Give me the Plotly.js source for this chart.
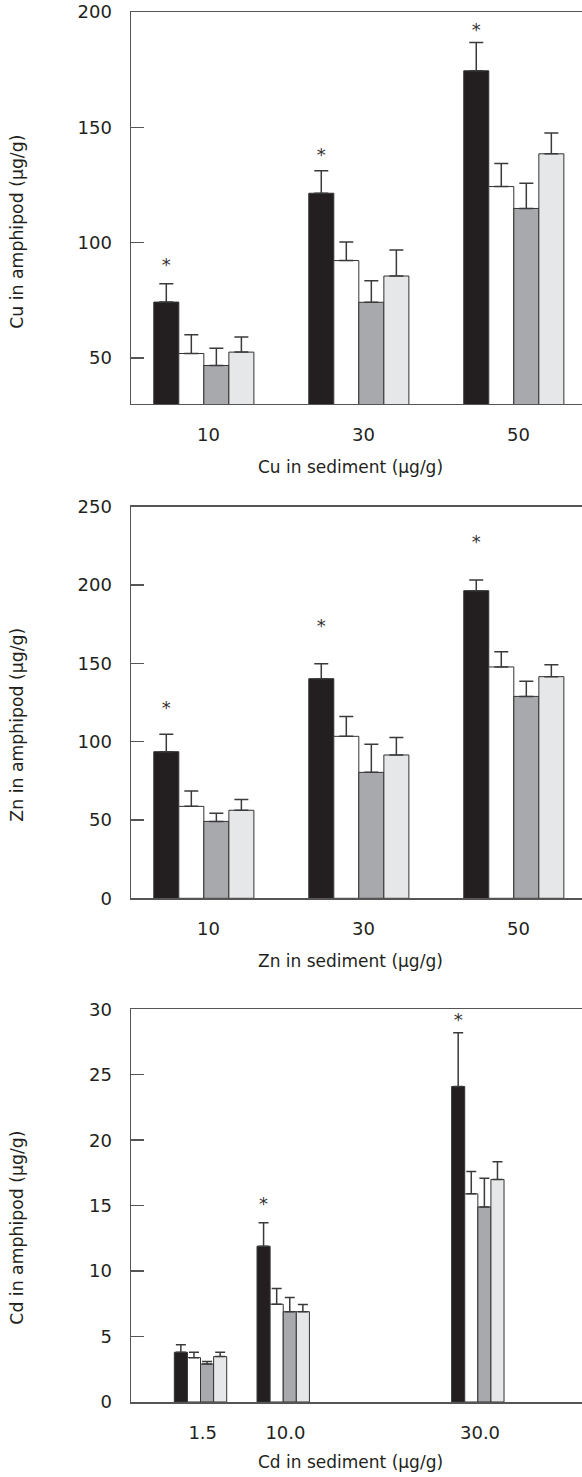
<!DOCTYPE html>
<html>
<head>
<meta charset="utf-8">
<script src="https://cdn.plot.ly/plotly-3.0.1.min.js"></script>
<style>html,body{margin:0;padding:0;background:#fff;}#chart{width:582px;height:1477px;}</style>
</head>
<body>
<div id="chart"></div>
<script>
// ---------- Data ----------
const seriesColors = ['#231f20', '#ffffff', '#a7a9ac', '#e6e7e8'];

// Panel 1: Cu
const cuSediment = [10, 30, 50];
const cuTickLabels = ['10', '30', '50'];
const cuMeans = [
  [74.2, 121.4, 174.5],
  [51.9, 92.2, 124.3],
  [46.7, 74.1, 114.8],
  [52.5, 85.5, 138.5]
];
const cuErr = [
  [8.0, 9.8, 12.3],
  [8.1, 8.1, 10.0],
  [7.5, 9.4, 10.9],
  [6.5, 11.3, 9.0]
];
const cuStarX = [10, 30, 50];
const cuStarY = [89.6, 137.3, 191.5];

// Panel 2: Zn
const znSediment = [10, 30, 50];
const znTickLabels = ['10', '30', '50'];
const znMeans = [
  [93.6, 140.2, 196.4],
  [58.7, 103.4, 147.7],
  [49.1, 80.4, 128.9],
  [56.2, 91.5, 141.5]
];
const znErr = [
  [11.1, 9.6, 6.8],
  [9.8, 12.6, 9.7],
  [5.2, 17.9, 9.6],
  [6.8, 11.1, 7.6]
];
const znStarX = [10, 30, 50];
const znStarY = [120.7, 172.8, 226.6];

// Panel 3: Cd
const cdSediment = [1.5, 10, 30];
const cdTickLabels = ['1.5', '10.0', '30.0'];
const cdMeans = [
  [3.8, 11.9, 24.1],
  [3.39, 7.47, 15.9],
  [2.9, 6.9, 14.9],
  [3.47, 6.9, 17.0]
];
const cdErr = [
  [0.58, 1.8, 4.1],
  [0.41, 1.2, 1.7],
  [0.2, 1.08, 2.2],
  [0.33, 0.54, 1.35]
];
const cdStarX = [10, 30];
const cdStarY = [15.0, 29.06];

// ---------- Build ----------
const FONT = 'DejaVu Sans, Verdana, sans-serif';
const TXT = '#231f20';
const LINE = '#555555';

const panels = [
  {x: cuSediment, means: cuMeans, err: cuErr, sx: cuStarX, sy: cuStarY, xa: 'x', ya: 'y', w: 3.23, shift: -0.6, cap: 7},
  {x: znSediment, means: znMeans, err: znErr, sx: znStarX, sy: znStarY, xa: 'x2', ya: 'y2', w: 3.23, shift: -0.6, cap: 7},
  {x: cdSediment, means: cdMeans, err: cdErr, sx: cdStarX, sy: cdStarY, xa: 'x3', ya: 'y3', w: 1.346, shift: -0.226, cap: 5}
];

const traces = [];
panels.forEach(p => {
  p.means.forEach((vals, k) => {
    traces.push({
      type: 'bar', x: p.x, y: vals, xaxis: p.xa, yaxis: p.ya,
      width: p.w, offset: p.shift - 2 * p.w + k * p.w,
      marker: {color: seriesColors[k], line: {color: '#333333', width: 1}},
      error_y: {type: 'data', symmetric: false, array: p.err[k], arrayminus: p.err[k].map(() => 0),
                color: '#3a3a3a', thickness: 1.5, width: p.cap},
      showlegend: false, hoverinfo: 'skip'
    });
  });
  traces.push({
    type: 'scatter', mode: 'text', xaxis: p.xa, yaxis: p.ya,
    x: p.sx.map(v => v + p.shift - 1.5 * p.w), y: p.sy,
    text: p.sx.map(() => '*'), textposition: 'middle center',
    textfont: {family: FONT, size: 18, color: '#333333'},
    cliponaxis: false, showlegend: false, hoverinfo: 'skip'
  });
});

function xaxis(range, vals, labels, anchor) {
  return {
    range: range, anchor: anchor, tickmode: 'array', tickvals: vals, ticktext: labels,
    ticks: '', showgrid: false, zeroline: false, showline: true, mirror: true,
    linecolor: LINE, linewidth: 1.5, ticklabelstandoff: 14,
    tickfont: {family: FONT, size: 18, color: TXT}, fixedrange: true
  };
}
function yaxis(range, dtick, domain, anchor) {
  return {
    range: range, domain: domain, anchor: anchor, tickmode: 'linear', tick0: 0, dtick: dtick,
    ticks: 'inside', ticklen: 12.6, tickwidth: 1.5, tickcolor: LINE,
    showgrid: false, zeroline: false, showline: true, mirror: false,
    linecolor: LINE, linewidth: 1.5, ticklabelstandoff: 14,
    tickfont: {family: FONT, size: 18, color: TXT}, fixedrange: true
  };
}

function yTitle(text, y) {
  return {text: text, xref: 'paper', yref: 'paper', x: -0.2534, y: y, xanchor: 'center', yanchor: 'middle',
          textangle: -90, showarrow: false, font: {family: FONT, size: 17.3, color: TXT}};
}
function xTitle(text, y) {
  return {text: text, xref: 'paper', yref: 'paper', x: 0.4856, y: y, xanchor: 'center', yanchor: 'middle',
          showarrow: false, font: {family: FONT, size: 17, color: TXT}};
}

const layout = {
  width: 582, height: 1477,
  margin: {l: 131, r: 0, t: 12, b: 75, pad: 0},
  paper_bgcolor: '#ffffff', plot_bgcolor: '#ffffff',
  barmode: 'overlay',
  xaxis: xaxis([0, 58.2], cuSediment, cuTickLabels, 'y'),
  yaxis: yaxis([30, 200], 50, [0.71799, 1], 'x'),
  xaxis2: xaxis([0, 58.2], znSediment, znTickLabels, 'y2'),
  yaxis2: yaxis([0, 250], 50, [0.36237, 0.64410], 'x2'),
  xaxis3: xaxis([-5.87, 40.48], cdSediment, cdTickLabels, 'y3'),
  yaxis3: yaxis([0, 30], 5, [0, 0.28252], 'x3'),
  annotations: [
    yTitle('Cu in amphipod (μg/g)', 0.8417),
    yTitle('Zn in amphipod (μg/g)', 0.4871),
    yTitle('Cd in amphipod (μg/g)', 0.1252),
    xTitle('Cu in sediment (μg/g)', 0.6727),
    xTitle('Zn in sediment (μg/g)', 0.3173),
    xTitle('Cd in sediment (μg/g)', -0.0432)
  ]
};

Plotly.newPlot('chart', traces, layout, {displayModeBar: false, staticPlot: true});
</script>
</body>
</html>
